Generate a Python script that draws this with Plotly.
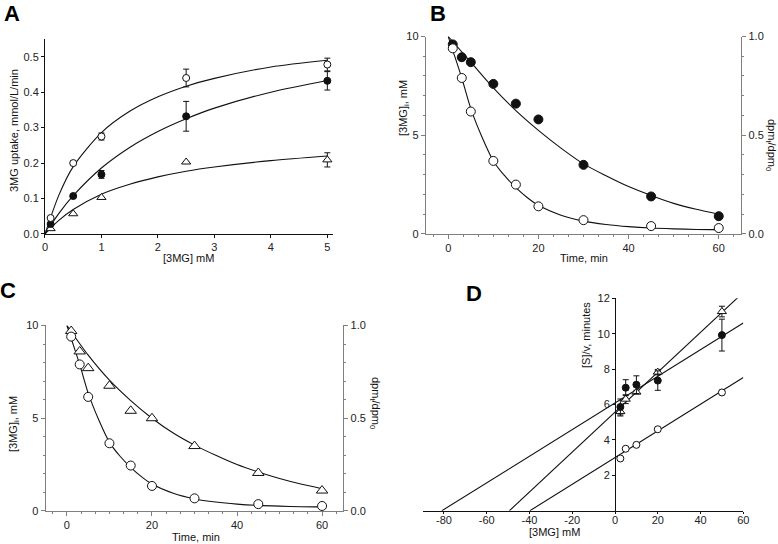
import plotly.graph_objects as go

# ---------------- Panel A data ----------------
A_x = [0.1, 0.5, 1, 2.5, 5]
A_open = [0.045, 0.200, 0.275, 0.440, 0.478]
A_open_err = [None, 0.006, 0.010, 0.025, 0.018]
A_fill = [0.028, 0.107, 0.168, 0.332, 0.432]
A_fill_err = [None, None, 0.011, 0.042, 0.026]
A_tri = [0.015, 0.057, 0.103, 0.203, 0.209]
A_tri_err = [None, None, None, None, 0.020]
A_curve_x = [0, 0.25, 0.5, 1, 1.5, 2, 2.5, 3, 4, 5]
A_curve_open = [0, 0.111, 0.190, 0.286, 0.346, 0.387, 0.417, 0.439, 0.471, 0.490]
A_curve_fill = [0, 0.059, 0.108, 0.186, 0.244, 0.289, 0.325, 0.355, 0.400, 0.433]
A_curve_tri = [0, 0.039, 0.069, 0.112, 0.140, 0.161, 0.177, 0.189, 0.207, 0.220]

# ---------------- Panel B / C data ----------------
T = [1, 3, 5, 10, 15, 20, 30, 45, 60]
B_fill = [9.6, 8.95, 8.7, 7.6, 6.6, 5.8, 3.5, 1.9, 0.9]
B_open = [9.4, 7.9, 6.2, 3.7, 2.5, 1.4, 0.7, 0.4, 0.3]
C_tri = [9.7, 8.6, 7.7, 6.75, 5.4, 5.0, 3.5, 2.05, 1.1]
C_open = [9.4, 7.9, 6.15, 3.65, 2.45, 1.35, 0.68, 0.37, 0.27]

fill_curve_t = [0, 5, 10, 15, 20, 25, 30, 35, 40, 45, 50, 55, 60]
fill_curve_y = [10, 8.7, 7.4, 6.25, 5.25, 4.35, 3.55, 2.95, 2.4, 1.95, 1.55, 1.25, 1.0]
open_curve_t = [0, 1, 3, 5, 7.5, 10, 12.5, 15, 17.5, 20, 25, 30, 35, 40, 45, 50, 55, 60]
open_curve_y = [10, 9.3, 7.9, 6.35, 4.9, 3.7, 2.95, 2.35, 1.85, 1.45, 0.95, 0.65, 0.48, 0.37, 0.3, 0.26, 0.23, 0.22]
tri_curve_t = [0, 5, 10, 15, 20, 25, 30, 35, 40, 45, 50, 55, 60]
tri_curve_y = [10, 8.4, 7.05, 5.95, 5.0, 4.2, 3.55, 3.0, 2.5, 2.1, 1.75, 1.45, 1.2]

# ---------------- Panel D data ----------------
D_x = [2.5, 5, 10, 20, 50]
D_open = [2.95, 3.5, 3.72, 4.6, 6.68]
D_open_err = [None, None, None, None, 0.13]
D_fill = [5.86, 6.95, 7.12, 7.35, 9.92]
D_fill_err = [0.45, 0.45, 0.5, 0.55, 0.9]
D_tri = [5.6, 6.3, 6.7, 7.83, 11.25]
D_tri_err = [0.25, 0.25, 0.1, 0.15, 0.3]
D_line_fill_x = [-81, 60]
D_line_fill_y = [0, 10.6]
D_line_tri_x = [-49.4, 60]
D_line_tri_y = [0, 12.33]
D_line_open_x = [-39.8, 60]
D_line_open_y = [0, 7.52]
D_xticks = [-80, -60, -40, -20, 0, 20, 40, 60]
D_xticklabels = ["-80", "-60", "-40", "-20", "0", "20", "40", "60"]

FONT = "Liberation Sans, Arial, sans-serif"
BLACK = "#111111"
GRAY = "#7f7f7f"

fig = go.Figure()


def curve(x, y, xa, ya, spline=True):
    fig.add_trace(go.Scatter(x=x, y=y, xaxis=xa, yaxis=ya, mode="lines",
                             line=dict(color=BLACK, width=1.1,
                                       shape="spline" if spline else "linear",
                                       smoothing=0.8),
                             hoverinfo="skip", showlegend=False))


def pts(x, y, xa, ya, kind, size, err=None):
    if kind == "open":
        m = dict(symbol="circle", color="white", size=size, line=dict(color=BLACK, width=1))
    elif kind == "fill":
        m = dict(symbol="circle", color=BLACK, size=size, line=dict(color=BLACK, width=1))
    else:
        m = dict(symbol="triangle-up", color="white", size=size, line=dict(color=BLACK, width=1))
    kw = {}
    if err is not None:
        kw["error_y"] = dict(type="data", array=err, symmetric=True, color=BLACK,
                             thickness=1, width=3)
    fig.add_trace(go.Scatter(x=x, y=y, xaxis=xa, yaxis=ya, mode="markers",
                             marker=m, cliponaxis=False, showlegend=False, **kw))


# Panel A
curve(A_curve_x, A_curve_open, "x", "y")
curve(A_curve_x, A_curve_fill, "x", "y")
curve(A_curve_x, A_curve_tri, "x", "y")
pts(A_x, A_tri, "x", "y", "tri", 8, A_tri_err)
pts(A_x, A_fill, "x", "y", "fill", 7, A_fill_err)
pts(A_x, A_open, "x", "y", "open", 7, A_open_err)

# Panel B
curve(fill_curve_t, fill_curve_y, "x2", "y2")
curve(open_curve_t, open_curve_y, "x2", "y2")
pts(T, B_fill, "x2", "y2", "fill", 9)
pts(T, B_open, "x2", "y2", "open", 9)
fig.add_trace(go.Scatter(x=[None], y=[None], xaxis="x2", yaxis="y5", showlegend=False))

# Panel C
curve(tri_curve_t, tri_curve_y, "x3", "y3")
curve(open_curve_t, open_curve_y, "x3", "y3")
pts(T, C_tri, "x3", "y3", "tri", 10)
pts(T, C_open, "x3", "y3", "open", 9)
fig.add_trace(go.Scatter(x=[None], y=[None], xaxis="x3", yaxis="y6", showlegend=False))

# Panel D
curve(D_line_fill_x, D_line_fill_y, "x4", "y4", spline=False)
curve(D_line_tri_x, D_line_tri_y, "x4", "y4", spline=False)
curve(D_line_open_x, D_line_open_y, "x4", "y4", spline=False)
pts(D_x, D_tri, "x4", "y4", "tri", 8, D_tri_err)
pts(D_x, D_fill, "x4", "y4", "fill", 7, D_fill_err)
pts(D_x, D_open, "x4", "y4", "open", 7, D_open_err)

tickfont = dict(family=FONT, size=11, color="#222222")


def ax(color, **kw):
    d = dict(showgrid=False, zeroline=False, showline=True, linecolor=color, linewidth=1,
             ticks="outside", ticklen=4, tickcolor=color, tickwidth=1, tickfont=tickfont,
             fixedrange=True, automargin=False)
    d.update(kw)
    return d


fig.update_layout(
    template="none",
    width=778, height=544, margin=dict(l=0, r=0, t=0, b=0, pad=0, autoexpand=False),
    paper_bgcolor="white", plot_bgcolor="rgba(0,0,0,0)", showlegend=False,
    font=dict(family=FONT, size=11, color="#222222"),
    xaxis=ax(BLACK, domain=[0.0578, 0.428], anchor="y", range=[0, 5.1], ticklen=3,
             tickvals=[0, 1, 2, 3, 4, 5]),
    yaxis=ax(BLACK, domain=[0.5699, 0.9283], anchor="x", range=[0, 0.55], ticklen=3,
             tickvals=[0, 0.1, 0.2, 0.3, 0.4, 0.5], tickformat=".1f"),
    xaxis2=ax(GRAY, domain=[0.5472, 0.9528], anchor="y2", range=[-5, 65],
              tickvals=[0, 20, 40, 60],
              minor=dict(ticks="outside", ticklen=2, tickcolor=GRAY, dtick=20 / 6, tick0=0)),
    yaxis2=ax(GRAY, domain=[0.5699, 0.9329], anchor="x2", range=[0, 10],
              tickvals=[0, 5, 10],
              minor=dict(ticks="outside", ticklen=2, tickcolor=GRAY, dtick=1, tick0=0)),
    yaxis5=ax(GRAY, overlaying="y2", side="right", anchor="x2", range=[0, 1],
              tickvals=[0, 0.5, 1], ticktext=["0.0", "0.5", "1.0"],
              minor=dict(ticks="outside", ticklen=2, tickcolor=GRAY, dtick=0.1, tick0=0)),
    xaxis3=ax(GRAY, domain=[0.0587, 0.4413], anchor="y3", range=[-5, 65],
              tickvals=[0, 20, 40, 60],
              minor=dict(ticks="outside", ticklen=2, tickcolor=GRAY, dtick=20 / 6, tick0=0)),
    yaxis3=ax(GRAY, domain=[0.0607, 0.4017], anchor="x3", range=[0, 10],
              tickvals=[0, 5, 10],
              minor=dict(ticks="outside", ticklen=2, tickcolor=GRAY, dtick=1, tick0=0)),
    yaxis6=ax(GRAY, overlaying="y3", side="right", anchor="x3", range=[0, 1],
              tickvals=[0, 0.5, 1], ticktext=["0.0", "0.5", "1.0"],
              minor=dict(ticks="outside", ticklen=2, tickcolor=GRAY, dtick=0.1, tick0=0)),
    xaxis4=ax(BLACK, domain=[0.5432, 0.9554], anchor="y4", range=[-90, 60], ticklen=2,
              ticklabelstandoff=-3, tickvals=D_xticks, ticktext=D_xticklabels),
    yaxis4=ax(BLACK, domain=[0.0612, 0.4517], anchor="free", position=0.7905, ticklen=3,
              range=[0, 12], tickvals=[2, 4, 6, 8, 10, 12]),
)

ann = []


def text(x, y, s, size=11, angle=0):
    ann.append(dict(x=x, y=y, xref="paper", yref="paper", text=s, showarrow=False,
                    textangle=angle, xanchor="center", yanchor="middle",
                    font=dict(family=FONT, size=size, color="#111111")))


def px(xp, yp):
    return xp / 778, 1 - yp / 544


# Panel letters
for lx, ly, s in [(12, 13, "A"), (438, 13, "B"), (8, 290, "C"), (474, 293, "D")]:
    ann.append(dict(x=lx / 778, y=1 - ly / 544, xref="paper", yref="paper",
                    text="<b>" + s + "</b>", showarrow=False, xanchor="center", yanchor="middle",
                    font=dict(family=FONT, size=22, color="#000000")))

# Axis titles
text(*px(14, 131), "3MG uptake, mmol/L/min", angle=-90)
text(*px(188, 258), "[3MG] mM")
text(*px(404, 108), "[3MG]<sub>i</sub>, mM", angle=-90)
text(*px(584, 258), "Time, min")
text(*px(771, 145), "dpm<sub>t</sub>/dpm<sub>0</sub>", angle=90)
text(*px(14, 424), "[3MG]<sub>i</sub>, mM", angle=-90)
text(*px(196, 537), "Time, min")
text(*px(375, 403), "dpm<sub>t</sub>/dpm<sub>0</sub>", angle=90)
text(*px(586, 335), "[S]/v, minutes", angle=-90)
text(*px(554, 532), "[3MG] mM")

fig.update_layout(annotations=ann)
fig.write_html("out.html", config={"displayModeBar": False},
               post_script="document.body.style.margin='0';document.body.style.padding='0';")
